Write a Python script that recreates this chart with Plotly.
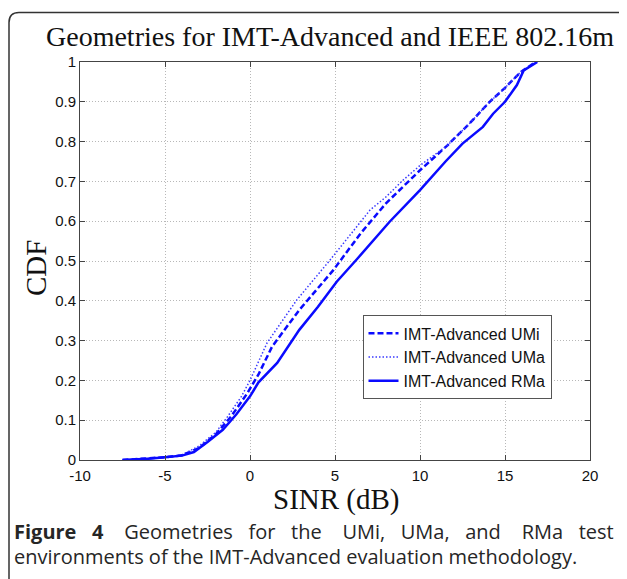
import plotly.graph_objects as go

# ---- data ----
umi_x = [-7.5, -5, -4, -3, -2, -1.1, -0.2, 0.5, 1.3, 2.9, 4.9, 6.5, 8.0, 10, 11.6, 12.9, 14.1, 15.0, 15.9, 16.5, 16.8]
umi_y = [0, 0.007, 0.012, 0.03, 0.065, 0.11, 0.165, 0.215, 0.285, 0.377, 0.477, 0.569, 0.645, 0.728, 0.79, 0.845, 0.9, 0.935, 0.974, 0.99, 1.0]

uma_x = [-7.5, -5, -4, -3, -2, -1.3, -0.5, 0, 1.0, 2.75, 4.7, 6.3, 7.06, 8.0, 9.0, 10, 11.6, 12.9, 14.1, 15.0, 15.9, 16.5, 16.8]
uma_y = [0, 0.007, 0.013, 0.035, 0.07, 0.11, 0.16, 0.2, 0.294, 0.402, 0.502, 0.586, 0.628, 0.661, 0.703, 0.74, 0.79, 0.845, 0.9, 0.935, 0.974, 0.99, 1.0]

rma_x = [-7.5, -6, -5, -4, -3.3, -2.5, -1.6, -0.8, 0, 0.5, 1.6, 2.9, 4.0, 5.1, 6.3, 8.2, 10, 11.5, 12.5, 13.7, 14.3, 15, 15.7, 16.1, 16.9]
rma_y = [0, 0.003, 0.007, 0.011, 0.02, 0.045, 0.076, 0.115, 0.16, 0.195, 0.244, 0.327, 0.385, 0.448, 0.505, 0.598, 0.678, 0.75, 0.795, 0.837, 0.87, 0.9, 0.942, 0.979, 1.0]

x_ticks = [-10, -5, 0, 5, 10, 15, 20]
y_ticks = [0, 0.1, 0.2, 0.3, 0.4, 0.5, 0.6, 0.7, 0.8, 0.9, 1]
y_tick_text = ["0", "0.1", "0.2", "0.3", "0.4", "0.5", "0.6", "0.7", "0.8", "0.9", "1"]

title_text = "Geometries for IMT-Advanced and IEEE 802.16m"
x_title = "SINR (dB)"
y_title = "CDF"
caption1_words = ["<b>Figure</b>", "<b>4</b>", "Geometries", "for", "the", "UMi,", "UMa,", "and", "RMa", "test"]
caption2 = "environments of the IMT-Advanced evaluation methodology."

BLUE = "#0a0aff"

fig = go.Figure()
fig.add_trace(go.Scatter(x=umi_x, y=umi_y, mode="lines", name="IMT-Advanced UMi",
                         line=dict(color=BLUE, width=2.5, dash="6px,3px")))
fig.add_trace(go.Scatter(x=uma_x, y=uma_y, mode="lines", name="IMT-Advanced UMa",
                         line=dict(color="#3a3aff", width=1.5, dash="1.5px,2px")))
fig.add_trace(go.Scatter(x=rma_x, y=rma_y, mode="lines", name="IMT-Advanced RMa",
                         line=dict(color=BLUE, width=2.5)))

# page offset (body margin of the html page)
OFF = 8
PAGE_W, PAGE_H = 627, 579
W, H = PAGE_W - OFF, PAGE_H - OFF
# plot area in page pixels
PL, PR, PT, PB = 80, 590, 61.5, 460.5
L, T = PL - OFF, PT - OFF
R = OFF + W - PR
B = OFF + H - PB
pw, ph = PR - PL, PB - PT

def px(x):
    return (x - PL) / pw

def py(y):
    return (PB - y) / ph

fig.update_layout(
    width=W, height=H,
    margin=dict(l=L, r=R, t=T, b=B),
    paper_bgcolor="white", plot_bgcolor="white",
    showlegend=True,
    legend=dict(x=px(362.5), y=py(315.5), xanchor="left", yanchor="top",
                bgcolor="white", bordercolor="#555", borderwidth=1,
                font=dict(family="Liberation Sans, Arial", size=16, color="#111"),
                tracegroupgap=0),
    font=dict(family="Liberation Sans, Arial", color="#111"),
)

axis_common = dict(showgrid=True, gridcolor="#b8b8b8", griddash="1px,2px", gridwidth=1,
                   zeroline=False, showline=True, linecolor="#444", linewidth=1,
                   mirror="allticks", ticks="inside", ticklen=5, tickcolor="#444",
                   tickfont=dict(family="Liberation Sans, Arial", size=15, color="#111"))

fig.update_xaxes(range=[-10, 20], tickvals=x_ticks, ticktext=[str(v) for v in x_ticks],
                 ticklabelstandoff=2, **axis_common)
fig.update_yaxes(range=[0, 1], tickvals=y_ticks, ticktext=y_tick_text, **axis_common)

NB = "\u00a0"
gaps = [3, 4, 3, 3, 4, 3, 3, 4, 3]
caption1 = caption1_words[0]
for g, w in zip(gaps, caption1_words[1:]):
    caption1 += NB * g + w

annos = [
    dict(text=title_text, x=px(330), y=py(36), xref="paper", yref="paper", showarrow=False,
         font=dict(family="Liberation Serif, Times New Roman", size=28, color="#111"),
         xanchor="center", yanchor="middle"),
    dict(text=x_title, x=px(336), y=py(500), xref="paper", yref="paper", showarrow=False,
         font=dict(family="Liberation Serif, Times New Roman", size=29, color="#111"),
         xanchor="center", yanchor="middle"),
    dict(text=y_title, x=px(36), y=py(268), xref="paper", yref="paper", showarrow=False,
         textangle=-90,
         font=dict(family="Liberation Serif, Times New Roman", size=29, color="#111"),
         xanchor="center", yanchor="middle"),
    dict(text=caption1, x=px(12), y=py(532), xref="paper", yref="paper", showarrow=False,
         font=dict(family="Open Sans", size=20, color="#262626"),
         xanchor="left", yanchor="middle"),
    dict(text=caption2, x=px(12), y=py(557), xref="paper", yref="paper", showarrow=False,
         font=dict(family="Open Sans", size=20, color="#262626"),
         xanchor="left", yanchor="middle"),
]
fig.update_layout(annotations=annos)

# rounded frame around the figure panel (top-left corner visible)
path = (f"M {px(9)},{py(640)} L {px(9)},{py(22)} "
        f"Q {px(9)},{py(12)} {px(19)},{py(12)} L {px(660)},{py(12)}")
fig.add_shape(type="path", path=path, xref="paper", yref="paper",
              line=dict(color="#333", width=1.5), layer="above")

fig.write_html("out.html")
